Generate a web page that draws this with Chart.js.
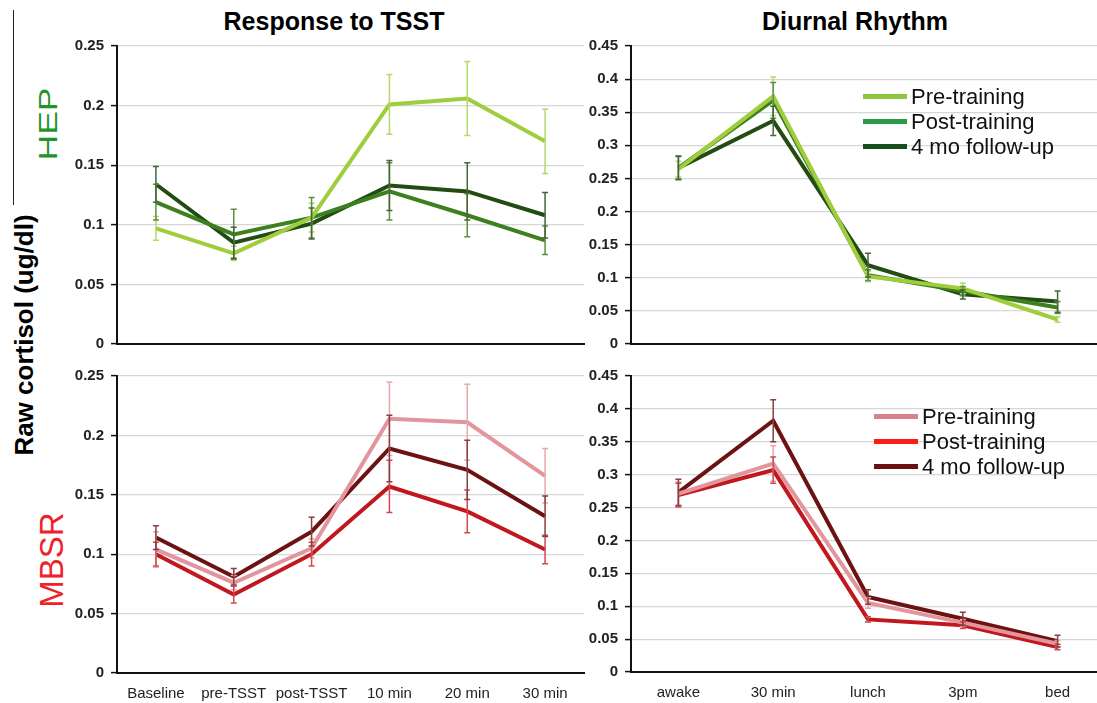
<!DOCTYPE html>
<html>
<head>
<meta charset="utf-8">
<script src="https://cdn.jsdelivr.net/npm/chart.js@4"></script>
<style>
  html, body { margin: 0; padding: 0; background: #fff; overflow: hidden; }
  body { width: 1097px; height: 703px; position: relative; font-family: "Liberation Sans", Arial, sans-serif; }
  canvas { position: absolute; }
  .txt { position: absolute; white-space: nowrap; line-height: 1; transform: translate(-50%, -50%); }
  .rot { transform: translate(-50%, -50%) rotate(-90deg); }
  .legend { position: absolute; font-size: 22px; color: #111; }
  .legend div { height: 25px; display: flex; align-items: center; }
  .legend span.sw { display: inline-block; width: 44px; height: 5px; margin-right: 4px; }
</style>
</head>
<body>
<div style="position:absolute;left:13px;top:10px;width:1px;height:195px;background:#222"></div>
<div class="txt" style="left:334px;top:21px;font-size:25px;font-weight:bold">Response to TSST</div>
<div class="txt" style="left:855px;top:21px;font-size:25px;font-weight:bold">Diurnal Rhythm</div>
<div class="txt" style="left:48px;top:124px;font-size:25px;color:#23922a;transform:translate(-50%,-50%) rotate(-90deg) scaleX(1.42)">HEP</div>
<div class="txt rot" style="left:51px;top:560px;font-size:33px;color:#ee2228">MBSR</div>
<div class="txt rot" style="left:24px;top:335px;font-size:26px;font-weight:bold">Raw cortisol (ug/dl)</div>

<canvas id="hepTsst" width="535" height="330" style="left:60px;top:30px"></canvas>
<canvas id="hepDiurnal" width="540" height="330" style="left:570px;top:30px"></canvas>
<canvas id="mbsrTsst" width="535" height="343" style="left:60px;top:360px"></canvas>
<canvas id="mbsrDiurnal" width="540" height="343" style="left:570px;top:360px"></canvas>
<div id="hepLegend" class="legend" style="left:863px;top:84px"></div>
<div id="mbsrLegend" class="legend" style="left:874px;top:404px"></div>

<script>
// categories
const tsstLabels = ['Baseline', 'pre-TSST', 'post-TSST', '10 min', '20 min', '30 min'];
const diurnalLabels = ['awake', '30 min', 'lunch', '3pm', 'bed'];
const seriesNames = ['Pre-training', 'Post-training', '4 mo follow-up'];

// y tick values / labels
const tsstTicks = [0, 0.05, 0.1, 0.15, 0.2, 0.25];
const tsstTickLabels = ['0', '0.05', '0.1', '0.15', '0.2', '0.25'];
const diurnalTicks = [0, 0.05, 0.1, 0.15, 0.2, 0.25, 0.3, 0.35, 0.4, 0.45];
const diurnalTickLabels = ['0', '0.05', '0.1', '0.15', '0.2', '0.25', '0.3', '0.35', '0.4', '0.45'];

// HEP - response to TSST
const hepTsstPre = [0.097, 0.076, 0.106, 0.201, 0.206, 0.170];
const hepTsstPreErr = [0.010, 0.006, 0.012, 0.025, 0.031, 0.027];
const hepTsstPost = [0.119, 0.092, 0.106, 0.128, 0.108, 0.087];
const hepTsstPostErr = [0.015, 0.021, 0.017, 0.024, 0.018, 0.012];
const hepTsstFollow = [0.134, 0.085, 0.101, 0.133, 0.128, 0.108];
const hepTsstFollowErr = [0.015, 0.013, 0.013, 0.021, 0.024, 0.019];

// HEP - diurnal rhythm
const hepDiurnalPre = [0.264, 0.374, 0.102, 0.084, 0.037];
const hepDiurnalPreErr = [0.012, 0.029, 0.008, 0.008, 0.004];
const hepDiurnalPost = [0.266, 0.368, 0.104, 0.080, 0.055];
const hepDiurnalPostErr = [0.017, 0.027, 0.008, 0.007, 0.009];
const hepDiurnalFollow = [0.266, 0.337, 0.119, 0.075, 0.064];
const hepDiurnalFollowErr = [0.018, 0.022, 0.018, 0.007, 0.016];

// MBSR - response to TSST
const mbsrTsstPre = [0.104, 0.076, 0.105, 0.214, 0.211, 0.166];
const mbsrTsstPreErr = [0.015, 0.006, 0.008, 0.031, 0.032, 0.023];
const mbsrTsstPost = [0.100, 0.066, 0.100, 0.157, 0.136, 0.104];
const mbsrTsstPostErr = [0.010, 0.007, 0.010, 0.022, 0.018, 0.012];
const mbsrTsstFollow = [0.114, 0.081, 0.119, 0.189, 0.171, 0.132];
const mbsrTsstFollowErr = [0.010, 0.007, 0.012, 0.028, 0.025, 0.017];

// MBSR - diurnal rhythm
const mbsrDiurnalPre = [0.271, 0.317, 0.105, 0.075, 0.043];
const mbsrDiurnalPreErr = [0.018, 0.027, 0.008, 0.005, 0.005];
const mbsrDiurnalPost = [0.269, 0.307, 0.080, 0.071, 0.038];
const mbsrDiurnalPostErr = [0.018, 0.020, 0.004, 0.005, 0.004];
const mbsrDiurnalFollow = [0.273, 0.382, 0.114, 0.081, 0.047];
const mbsrDiurnalFollowErr = [0.020, 0.032, 0.011, 0.010, 0.009];

const hepColors = ['#9fcd3c', '#3e7f1f', '#224c12'];
const hepErrColors = ['#b4d96a', '#5c8f44', '#46663a'];
const hepLegendColors = ['#8dc63f', '#2c9a48', '#174d1f'];
const mbsrColors = ['#e2959c', '#c1171f', '#6c1212'];
const mbsrErrColors = ['#e8a9ae', '#cf4a50', '#8a3e3e'];
const mbsrLegendColors = ['#d9828a', '#ff1a1a', '#6a1010'];

const FONT = '"Liberation Sans", Arial, sans-serif';

// draws error bars through the chart's own y scale
const errorBars = {
    id: 'errorBars',
    afterDatasetsDraw(chart) {
        const ctx = chart.ctx;
        const yScale = chart.scales.y;
        chart.data.datasets.forEach((ds, i) => {
            const meta = chart.getDatasetMeta(i);
            ctx.save();
            ctx.strokeStyle = ds.errorColor;
            ctx.lineWidth = 1.5;
            meta.data.forEach((pt, j) => {
                const v = ds.data[j], e = ds.errors[j];
                const top = yScale.getPixelForValue(v + e);
                const bot = yScale.getPixelForValue(v - e);
                ctx.beginPath();
                ctx.moveTo(pt.x, top); ctx.lineTo(pt.x, bot);
                ctx.moveTo(pt.x - 3, top); ctx.lineTo(pt.x + 3, top);
                ctx.moveTo(pt.x - 3, bot); ctx.lineTo(pt.x + 3, bot);
                ctx.stroke();
            });
            ctx.restore();
        });
    }
};

function makeChart(id, box, area, labels, series, errs, colors, errColors, ticks, tickLabels, showX) {
    const datasets = series.map((s, i) => ({
        label: seriesNames[i],
        data: s,
        errors: errs[i],
        borderColor: colors[i],
        errorColor: errColors[i],
        borderWidth: 4,
        pointRadius: 0,
        tension: 0,
        fill: false
    }));
    return new Chart(document.getElementById(id), {
        type: 'line',
        data: { labels: labels, datasets: datasets },
        plugins: [errorBars],
        options: {
            responsive: false,
            animation: false,
            layout: {
                padding: { top: area.top - box.top, right: box.left + box.width - area.right, left: 0, bottom: 0 }
            },
            plugins: { legend: { display: false }, tooltip: { enabled: false } },
            scales: {
                x: {
                    offset: true,
                    grid: { display: true, drawOnChartArea: false, drawTicks: false },
                    border: { color: '#111', width: 2 },
                    ticks: {
                        display: showX, autoSkip: false, maxRotation: 0, padding: 12,
                        color: '#222', font: { family: FONT, size: 15 }
                    },
                    afterFit: s => { s.height = box.top + box.height - area.bottom; }
                },
                y: {
                    min: 0,
                    max: ticks[ticks.length - 1],
                    afterBuildTicks: s => { s.ticks = ticks.map(v => ({ value: v })); },
                    grid: { color: '#d6d6d6', lineWidth: 1.2, tickColor: '#111', tickLength: 6, tickWidth: 1.5 },
                    border: { color: '#111', width: 2 },
                    ticks: {
                        padding: 7, color: '#222',
                        font: { family: FONT, size: 15, weight: 'bold' },
                        callback: (v, i) => tickLabels[i]
                    },
                    afterFit: s => { s.width = area.left - box.left; }
                }
            }
        }
    });
}

function makeLegend(id, colors) {
    document.getElementById(id).innerHTML = seriesNames.map((n, i) =>
        `<div><span class="sw" style="background:${colors[i]}"></span>${n}</div>`).join('');
}

makeChart('hepTsst', { left: 60, top: 30, width: 535, height: 330 }, { left: 117, top: 45, right: 584, bottom: 349 },
    tsstLabels, [hepTsstPre, hepTsstPost, hepTsstFollow], [hepTsstPreErr, hepTsstPostErr, hepTsstFollowErr],
    hepColors, hepErrColors, tsstTicks, tsstTickLabels, false);

makeChart('hepDiurnal', { left: 570, top: 30, width: 540, height: 330 }, { left: 631, top: 46, right: 1105, bottom: 348 },
    diurnalLabels, [hepDiurnalPre, hepDiurnalPost, hepDiurnalFollow], [hepDiurnalPreErr, hepDiurnalPostErr, hepDiurnalFollowErr],
    hepColors, hepErrColors, diurnalTicks, diurnalTickLabels, false);

makeChart('mbsrTsst', { left: 60, top: 360, width: 535, height: 343 }, { left: 117, top: 370, right: 584, bottom: 673 },
    tsstLabels, [mbsrTsstPre, mbsrTsstPost, mbsrTsstFollow], [mbsrTsstPreErr, mbsrTsstPostErr, mbsrTsstFollowErr],
    mbsrColors, mbsrErrColors, tsstTicks, tsstTickLabels, true);

makeChart('mbsrDiurnal', { left: 570, top: 360, width: 540, height: 343 }, { left: 631, top: 370, right: 1105, bottom: 672 },
    diurnalLabels, [mbsrDiurnalPre, mbsrDiurnalPost, mbsrDiurnalFollow], [mbsrDiurnalPreErr, mbsrDiurnalPostErr, mbsrDiurnalFollowErr],
    mbsrColors, mbsrErrColors, diurnalTicks, diurnalTickLabels, true);

makeLegend('hepLegend', hepLegendColors);
makeLegend('mbsrLegend', mbsrLegendColors);
</script>
</body>
</html>
